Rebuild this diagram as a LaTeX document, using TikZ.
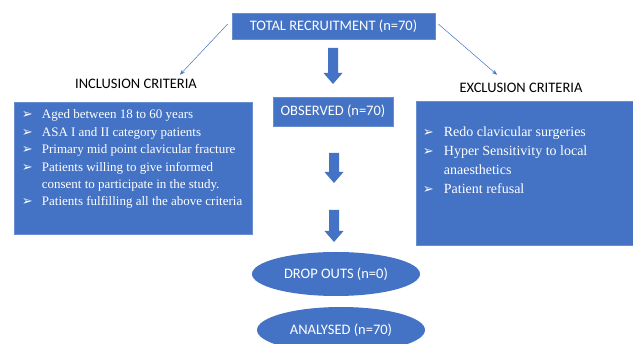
\documentclass[tikz,border=0pt]{standalone}
\usepackage{fontspec}
\setmainfont{Liberation Serif}
\setsansfont{Carlito}
\newfontfamily\arrowfont{DejaVu Sans}
\usepackage{xcolor}
\usepackage{tikz}
\usetikzlibrary{positioning}
\usetikzlibrary{shapes.geometric}
\usetikzlibrary{arrows.meta}
\definecolor{boxblue}{HTML}{4472C4}
\newcommand{\bulletitem}[1]{\makebox[#1][l]{\arrowfont\fontsize{13}{13}\selectfont ➢}} % Takes width of the bullet column as argument
\newcommand{\blockarrow}[3]{ % Takes x centre, top y, bottom y as arguments
    \fill[boxblue] (#1-5,#2) -- (#1+5,#2) -- (#1+5,#3-11) -- (#1+9.5,#3-11) -- (#1,#3) -- (#1-9.5,#3-11) -- (#1-5,#3-11) -- cycle;
}
\tikzset{
    bluebox/.style={fill=boxblue, draw=boxblue!80!white, line width=0.6pt, inner sep=0pt},
    boxtext/.style={text=white, font=\sffamily\fontsize{14.5}{16}\selectfont},
    headtext/.style={text=black, font=\sffamily\fontsize{14.5}{16}\selectfont},
    thinarrow/.style={-{Stealth[length=5pt, width=4pt]}, draw=boxblue, line width=0.5pt}
}

\begin{document}
\begin{tikzpicture}[x=1pt, y=-1pt]
                \useasboundingbox (0,0) rectangle (633,344);

                % Top box
                \node[bluebox, boxtext, minimum width=203, minimum height=26] (total) at (333.5,26) {TOTAL RECRUITMENT (n=70)};

                % Criteria headings
                \node[headtext] (inchead) at (136,84) {INCLUSION CRITERIA};
                \node[headtext] (exchead) at (521,88) {EXCLUSION CRITERIA};
                \draw[thinarrow] ([shift={(-4,-2)}]total.west) -- ([shift={(44,-1)}]inchead.north);
                \draw[thinarrow] ([shift={(3,-2)}]total.east) -- ([shift={(-24,-5)}]exchead.north);

                % Inclusion list
                \node[bluebox, minimum width=238, minimum height=132] (incbox) at (133,168) {};
                \node[anchor=north west, text=white, align=left, inner sep=0pt, font=\fontsize{13}{17.4}\selectfont] (inclist) at ([shift={(8,8)}]incbox.north west) {%
                    \bulletitem{20pt}Aged between 18 to 60 years\\
                    \bulletitem{20pt}ASA I and II category patients\\
                    \bulletitem{20pt}Primary mid point clavicular fracture\\
                    \bulletitem{20pt}Patients willing to give informed\\
                    \hspace*{20pt}consent to participate in the study.\\
                    \bulletitem{20pt}Patients fulfilling all the above criteria};

                % Exclusion list
                \node[bluebox, minimum width=217, minimum height=144] (excbox) at (524.5,173) {};
                \node[anchor=north west, text=white, align=left, inner sep=0pt, font=\fontsize{14}{19}\selectfont] (exclist) at ([shift={(7,26)}]excbox.north west) {%
                    \bulletitem{21pt}Redo clavicular surgeries\\
                    \bulletitem{21pt}Hyper Sensitivity to local\\
                    \hspace*{21pt}anaesthetics\\
                    \bulletitem{21pt}Patient refusal};

                % Middle column
                \node[bluebox, boxtext, minimum width=120, minimum height=29] (observed) at (333,111.5) {OBSERVED (n=70)};
                \node[ellipse, fill=boxblue, boxtext, minimum width=168, minimum height=44] (dropouts) at (336,274) {DROP OUTS (n=0)};
                \node[ellipse, fill=boxblue, boxtext, minimum width=168, minimum height=46] (analysed) at (341,330) {ANALYSED (n=70)};

                % Block arrows
                \blockarrow{333}{48}{84}
                \blockarrow{334}{153}{183}
                \blockarrow{334}{210}{242}
\end{tikzpicture}
\end{document}
